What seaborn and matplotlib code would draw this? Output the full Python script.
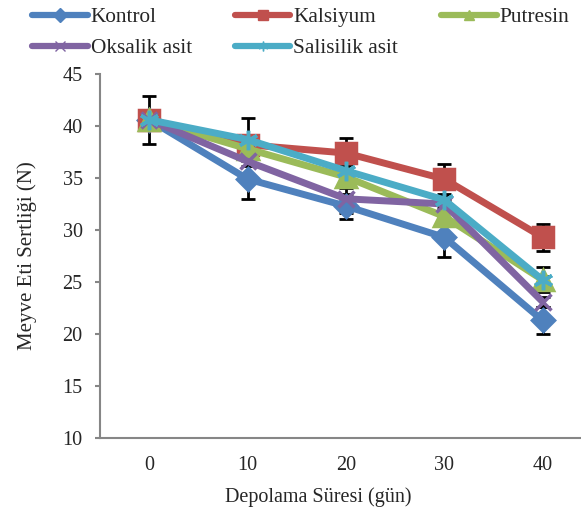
import numpy as np
import pandas as pd
import seaborn as sns
import matplotlib.pyplot as plt
from matplotlib.lines import Line2D

# Veriler
days = [0, 10, 20, 30, 40]
series = ["Kontrol", "Kalsiyum", "Putresin", "Oksalik asit", "Salisilik asit"]
kontrol = [40.6, 34.9, 32.3, 29.3, 21.3]
kalsiyum = [40.6, 38.2, 37.4, 34.9, 29.3]
putresin = [40.6, 37.8, 35.1, 31.3, 25.2]
oksalik = [40.6, 36.6, 33.0, 32.5, 23.1]
salisilik = [40.6, 38.7, 35.7, 32.9, 25.2]

kontrol_err = [2.3, 1.9, 1.2, 1.9, 1.3]
kalsiyum_err = [0.4, 0.4, 1.4, 1.4, 1.3]
putresin_err = [0.4, 0.4, 1.1, 0.4, 1.2]
oksalik_err = [0.4, 0.4, 1.4, 0.4, 0.5]
salisilik_err = [0.4, 2.1, 0.4, 0.4, 0.4]

values = [kontrol, kalsiyum, putresin, oksalik, salisilik]
errors = [kontrol_err, kalsiyum_err, putresin_err, oksalik_err, salisilik_err]

colors = ["#4F81BD", "#C0504D", "#9BBB59", "#8064A2", "#4BACC6"]
markers = ["D", "s", "^", "x", (6, 2, 0)]
msizes = [11, 14, 14, 11, 14]

sns.set_style("white")
plt.rcParams["font.family"] = ["Liberation Serif", "DejaVu Serif"]

fig = plt.figure(figsize=(5.81, 5.13), dpi=100)
ax = fig.add_axes([100 / 581, 75 / 513, 1 - 100 / 581, 364 / 513])

# hata cubuklari
for vals, errs in zip(values, errors):
    ax.errorbar(days, vals, yerr=errs, fmt="none", ecolor="black",
                elinewidth=2, capsize=5, capthick=2, zorder=1)

for name, vals, c, m, ms in zip(series, values, colors, markers, msizes):
    d = pd.DataFrame({"gun": days, "deger": vals})
    sns.lineplot(data=d, x="gun", y="deger", color=c, marker=m, ms=ms,
                 mec=c, mfc=c, mew=2.5, lw=5, ax=ax, zorder=2)

ax.set_xlim(-5, 43.9)
ax.set_ylim(10, 45)
ax.set_yticks(np.arange(10, 46, 5))
ax.set_xticks(days)
ax.set_xticklabels([str(d) for d in days])

for sp in ["top", "right"]:
    ax.spines[sp].set_visible(False)
for sp in ["left", "bottom"]:
    ax.spines[sp].set_color("#868686")
    ax.spines[sp].set_linewidth(1.5)

ax.tick_params(axis="y", which="both", left=True, length=3.6, width=1.5,
               color="#868686", labelsize=14.5, pad=9)
ax.tick_params(axis="x", bottom=False, length=0, labelsize=14.5, pad=13)

ax.set_xlabel("Depolama Süresi (gün)", fontsize=14.5, va="top")
ax.set_ylabel("Meyve Eti Sertliği (N)", fontsize=15, va="bottom")
ax.xaxis.set_label_coords(0.453, -0.135)
ax.yaxis.set_label_coords(-0.13, 0.5)

# lejant
handles = [Line2D([], [], color=c, lw=4.5, marker=m, ms=7, mec=c, mfc=c)
           for c, m in zip(colors, markers)]
order = [0, 3, 1, 4, 2]
fig.legend([handles[i] for i in order], [series[i] for i in order],
           ncol=3, loc="upper left", bbox_to_anchor=(0.055, 0.986),
           frameon=False, fontsize=15.3, handlelength=2.63, handletextpad=0.14,
           columnspacing=2.0, labelspacing=0.52, borderpad=0,
           borderaxespad=0)

fig.savefig("out.png", dpi=100)
